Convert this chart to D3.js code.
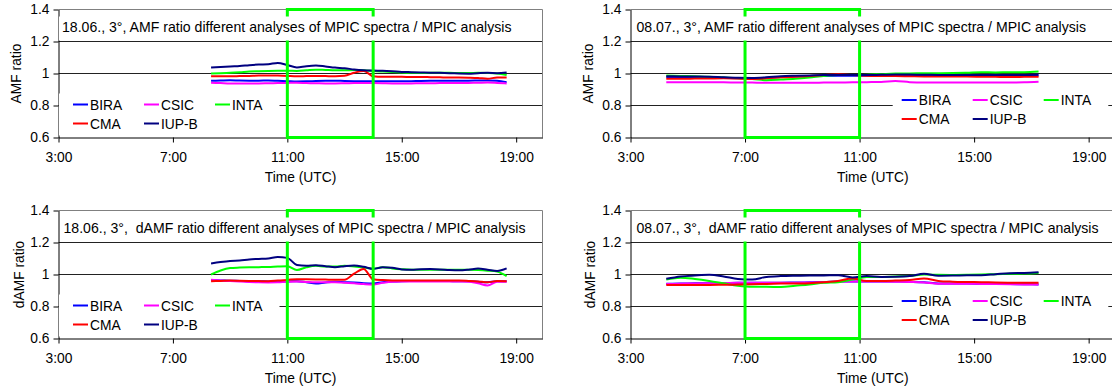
<!DOCTYPE html>
<html>
<head>
<meta charset="utf-8">
<script src="https://cdn.jsdelivr.net/npm/d3@7"></script>
<style>
  body { margin: 0; background: #fff; }
  svg { display: block; font-family: "Liberation Sans", Arial, sans-serif; }
</style>
</head>
<body>
<div id="chart"></div>
<script>
/* ── data ─────────────────────────────────────────────── */
const seriesNames  = ['BIRA', 'CSIC', 'INTA', 'CMA', 'IUP-B'];
const seriesColors = ['#0000ff', '#ff00ff', '#00ff00', '#ff0000', '#000080'];

const xTicks      = [3, 7, 11, 15, 19];
const xTickLabels = ['3:00', '7:00', '11:00', '15:00', '19:00'];
const yTicks      = [0.6, 0.8, 1, 1.2, 1.4];
const yTickLabels = ['0.6', '0.8', '1', '1.2', '1.4'];

// 18.06.
const timesJun = ['8:20','8:40','9:00','9:20','9:40','10:00','10:20','10:40','11:00','11:20','11:40','12:00',
  '12:20','12:40','13:00','13:20','13:40','14:00','14:20','14:40','15:00','15:20','15:40','16:00',
  '16:20','16:40','17:00','17:20','17:40','18:00','18:20','18:40'];

const amfJunBira = [0.954,0.956,0.958,0.956,0.955,0.955,0.956,0.954,0.952,0.950,0.951,0.953,0.954,0.955,0.953,0.952,0.951,0.952,0.951,0.951,0.951,0.952,0.953,0.954,0.955,0.955,0.955,0.955,0.956,0.957,0.954,0.946];
const amfJunCsic = [0.942,0.940,0.938,0.938,0.938,0.938,0.939,0.940,0.941,0.942,0.940,0.939,0.938,0.938,0.939,0.940,0.941,0.940,0.939,0.938,0.938,0.938,0.939,0.939,0.940,0.940,0.940,0.941,0.942,0.943,0.941,0.938];
const amfJunInta = [1.000,1.002,1.005,1.008,1.012,1.014,1.016,1.017,1.017,1.016,1.020,1.024,1.022,1.020,1.020,1.022,1.020,1.016,1.012,1.010,1.006,1.004,1.003,1.004,1.004,1.004,1.003,1.003,1.004,1.003,1.000,0.990];
const amfJunCma  = [0.983,0.983,0.983,0.984,0.985,0.987,0.988,0.987,0.985,0.983,0.984,0.985,0.984,0.983,0.986,1.005,1.016,0.983,0.979,0.979,0.979,0.978,0.978,0.977,0.976,0.975,0.975,0.974,0.972,0.967,0.975,0.975];
const amfJunIupb = [1.037,1.040,1.044,1.047,1.052,1.056,1.058,1.066,1.053,1.038,1.046,1.050,1.044,1.037,1.033,1.025,1.020,1.018,1.017,1.014,1.010,1.008,1.006,1.005,1.004,1.002,1.000,0.999,1.002,1.004,1.002,1.006];

const damfJunBira = [0.965,0.963,0.961,0.960,0.958,0.958,0.957,0.957,0.957,0.958,0.952,0.944,0.950,0.954,0.952,0.950,0.946,0.944,0.952,0.956,0.958,0.959,0.960,0.960,0.960,0.959,0.958,0.958,0.955,0.952,0.958,0.958];
const damfJunCsic = [0.967,0.962,0.959,0.956,0.953,0.951,0.950,0.951,0.955,0.956,0.953,0.951,0.952,0.951,0.949,0.945,0.940,0.937,0.948,0.955,0.956,0.956,0.956,0.957,0.957,0.957,0.956,0.955,0.945,0.932,0.954,0.955];
const damfJunInta = [1.000,1.025,1.040,1.043,1.045,1.046,1.047,1.050,1.052,1.028,1.045,1.054,1.050,1.050,1.054,1.050,1.044,1.036,1.046,1.038,1.033,1.030,1.030,1.030,1.030,1.030,1.030,1.030,1.028,1.024,1.018,0.990];
const damfJunCma  = [0.958,0.960,0.962,0.961,0.960,0.959,0.958,0.962,0.966,0.971,0.970,0.969,0.968,0.967,0.967,1.005,1.035,0.970,0.965,0.963,0.963,0.963,0.963,0.963,0.963,0.962,0.962,0.960,0.957,0.951,0.960,0.958];
const damfJunIupb = [1.069,1.078,1.085,1.088,1.094,1.097,1.100,1.110,1.104,1.060,1.055,1.058,1.052,1.046,1.052,1.056,1.048,1.035,1.045,1.042,1.032,1.030,1.033,1.034,1.032,1.028,1.026,1.030,1.037,1.030,1.022,1.038];

// 08.07.
const timesJul = ['4:15','4:45','5:15','5:45','6:15','6:45','7:15','7:45','8:15','8:45','9:15','9:45','10:15',
  '10:45','11:15','11:45','12:15','12:45','13:15','13:45','14:15','14:45','15:15','15:45','16:15','16:45','17:15'];

const amfJulBira = [0.976,0.976,0.975,0.975,0.973,0.971,0.970,0.973,0.978,0.981,0.983,0.985,0.986,0.986,0.986,0.987,0.988,0.987,0.986,0.985,0.985,0.985,0.985,0.985,0.985,0.986,0.988];
const amfJulCsic = [0.946,0.946,0.946,0.946,0.945,0.944,0.943,0.942,0.942,0.942,0.942,0.943,0.944,0.945,0.946,0.947,0.953,0.946,0.944,0.944,0.944,0.944,0.944,0.944,0.944,0.945,0.948];
const amfJulInta = [0.988,0.985,0.983,0.979,0.975,0.970,0.965,0.958,0.962,0.967,0.975,0.985,0.990,0.990,0.992,0.996,1.000,1.000,1.002,1.002,1.003,1.005,1.008,1.007,1.008,1.008,1.012];
const amfJulCma  = [0.967,0.967,0.968,0.969,0.970,0.968,0.966,0.970,0.976,0.980,0.984,0.990,0.995,0.990,0.986,0.984,0.984,0.983,0.982,0.982,0.981,0.981,0.980,0.979,0.978,0.979,0.980];
const amfJulIupb = [0.983,0.982,0.981,0.980,0.976,0.973,0.972,0.976,0.983,0.986,0.988,0.990,0.990,0.990,0.990,0.992,0.994,0.993,0.992,0.991,0.990,0.990,0.990,0.991,0.990,0.990,0.994];

const damfJulBira = [0.942,0.943,0.945,0.946,0.947,0.948,0.949,0.949,0.949,0.950,0.951,0.953,0.956,0.957,0.957,0.957,0.956,0.954,0.951,0.944,0.943,0.943,0.942,0.941,0.940,0.939,0.938];
const damfJulCsic = [0.940,0.942,0.944,0.946,0.947,0.948,0.948,0.948,0.948,0.949,0.950,0.952,0.955,0.956,0.956,0.956,0.955,0.953,0.950,0.942,0.942,0.942,0.941,0.940,0.939,0.938,0.937];
const damfJulInta = [0.969,0.980,0.972,0.960,0.945,0.930,0.923,0.923,0.922,0.930,0.938,0.948,0.952,0.968,0.985,0.985,0.988,0.990,1.000,0.998,0.997,0.998,1.000,1.002,1.004,1.006,1.010];
const damfJulCma  = [0.935,0.935,0.935,0.935,0.936,0.937,0.939,0.941,0.943,0.944,0.946,0.952,0.960,0.975,0.960,0.960,0.962,0.965,0.975,0.960,0.955,0.953,0.952,0.950,0.949,0.948,0.948];
const damfJulIupb = [0.973,0.988,0.994,0.998,0.988,0.972,0.968,0.985,0.990,0.992,0.993,0.994,0.996,0.982,0.990,0.985,0.986,0.990,1.004,0.992,0.993,0.995,0.996,1.002,1.008,1.010,1.014];

/* ── layout ───────────────────────────────────────────── */
const W = 1112, H = 387;
const FONT = 13.8;
const TITLE_FONT = 14.1;

const panels = [
  { title: '18.06., 3°, AMF ratio different analyses of MPIC spectra / MPIC analysis',
    yLabel: 'AMF ratio', times: timesJun, window: [11, 14],
    values: [amfJunBira, amfJunCsic, amfJunInta, amfJunCma, amfJunIupb],
    left: 58.5, right: 542.5, top: 9.5, bottom: 137.5, titleDx: 3.5, yLabelX: 20.7,
    legend: { x: 14.5, y: 95, boxX: 0.5, boxW: 220.5, boxY: 84 } },
  { title: '08.07., 3°, AMF ratio different analyses of MPIC spectra / MPIC analysis',
    yLabel: 'AMF ratio', times: timesJul, window: [7, 11],
    values: [amfJulBira, amfJulCsic, amfJulInta, amfJulCma, amfJulIupb],
    left: 630.5, right: 1115, top: 9.5, bottom: 137.5, titleDx: 6, yLabelX: 592.7,
    legend: { x: 271.2, y: 90.5, boxX: 262.2, boxW: 215.6, boxY: 80 } },
  { title: '18.06., 3°,  dAMF ratio different analyses of MPIC spectra / MPIC analysis',
    yLabel: 'dAMF ratio', times: timesJun, window: [11, 14],
    values: [damfJunBira, damfJunCsic, damfJunInta, damfJunCma, damfJunIupb],
    left: 58.5, right: 542.5, top: 210.5, bottom: 338.5, titleDx: 5, yLabelX: 24,
    legend: { x: 14.5, y: 95, boxX: 0.5, boxW: 220.5, boxY: 84 } },
  { title: '08.07., 3°,  dAMF ratio different analyses of MPIC spectra / MPIC analysis',
    yLabel: 'dAMF ratio', times: timesJul, window: [7, 11],
    values: [damfJulBira, damfJulCsic, damfJulInta, damfJulCma, damfJulIupb],
    left: 630.5, right: 1115, top: 210.5, bottom: 338.5, titleDx: 6, yLabelX: 595,
    legend: { x: 271.2, y: 90.5, boxX: 262.2, boxW: 215.6, boxY: 80 } },
];

const toHours = s => { const [h, m] = s.split(':').map(Number); return h + m / 60; };

const svg = d3.select('#chart').append('svg')
  .attr('width', W).attr('height', H)
  .attr('viewBox', `0 0 ${W} ${H}`);

svg.append('rect').attr('width', W).attr('height', H).attr('fill', '#fff');

panels.forEach(drawPanel);

function drawPanel(p) {
  const x = d3.scaleLinear().domain([3, 19.92]).range([p.left, p.right]);
  const y = d3.scaleLinear().domain([0.6, 1.4]).range([p.bottom, p.top]);
  const g = svg.append('g');

  // gridlines
  g.append('g').selectAll('line')
    .data(yTicks.slice(1, -1))
    .join('line')
    .attr('x1', p.left).attr('x2', p.right)
    .attr('y1', d => y(d)).attr('y2', d => y(d))
    .attr('stroke', '#222').attr('stroke-width', 1);

  // frame (top / right) in grey
  g.append('path')
    .attr('d', `M${p.left},${p.top}H${p.right}V${p.bottom}`)
    .attr('fill', 'none').attr('stroke', '#808080').attr('stroke-width', 1);

  // axes
  const axisStyle = sel => sel
    .call(a => a.select('.domain').attr('stroke', '#000'))
    .call(a => a.selectAll('.tick line').attr('stroke', '#000'))
    .call(a => a.selectAll('.tick text')
      .attr('fill', '#000')
      .attr('font-family', '"Liberation Sans", Arial, sans-serif')
      .attr('font-size', FONT));

  g.append('g')
    .attr('transform', `translate(${p.left},0)`)
    .call(d3.axisLeft(y).tickValues(yTicks).tickFormat((d, i) => yTickLabels[i])
      .tickSize(5).tickSizeOuter(0).tickPadding(4))
    .call(axisStyle);

  g.append('g')
    .attr('transform', `translate(0,${p.bottom})`)
    .call(d3.axisBottom(x).tickValues(xTicks).tickFormat((d, i) => xTickLabels[i])
      .tickSize(5).tickSizeOuter(0).tickPadding(10))
    .call(axisStyle);

  // axis titles
  g.append('text')
    .attr('x', (p.left + p.right) / 2).attr('y', p.bottom + 44)
    .attr('text-anchor', 'middle').attr('font-size', FONT)
    .text('Time (UTC)');

  g.append('text')
    .attr('transform', `translate(${p.yLabelX},${(p.top + p.bottom) / 2}) rotate(-90)`)
    .attr('text-anchor', 'middle').attr('font-size', FONT)
    .text(p.yLabel);

  // series
  const line = d3.line()
    .x(d => x(d[0]))
    .y(d => y(d[1]))
    .curve(d3.curveMonotoneX);

  const hours = p.times.map(toHours);
  seriesNames.forEach((name, i) => {
    g.append('path')
      .datum(hours.map((h, k) => [h, p.values[i][k]]))
      .attr('d', line)
      .attr('fill', 'none')
      .attr('stroke', seriesColors[i])
      .attr('stroke-width', 2)
      .attr('stroke-linejoin', 'round');
  });

  // highlighted time window
  g.append('rect')
    .attr('x', x(p.window[0])).attr('y', p.top)
    .attr('width', x(p.window[1]) - x(p.window[0]))
    .attr('height', p.bottom - p.top)
    .attr('fill', 'none').attr('stroke', '#00ff00').attr('stroke-width', 3);

  // title box
  const titleBox = g.append('rect').attr('fill', '#fff');
  const title = g.append('text')
    .attr('x', p.left + p.titleDx).attr('y', p.top + 22.3)
    .attr('font-size', TITLE_FONT)
    .style('white-space', 'pre')
    .text(p.title);
  const tw = title.node().getComputedTextLength();
  titleBox
    .attr('x', p.left + p.titleDx - 3).attr('y', p.top + 7)
    .attr('width', tw + 9).attr('height', 24);

  // legend
  const L = p.legend;
  g.append('rect')
    .attr('x', p.left + L.boxX).attr('y', p.top + L.boxY)
    .attr('width', L.boxW).attr('height', 42)
    .attr('fill', '#fff');

  const items = g.append('g').selectAll('g')
    .data(seriesNames)
    .join('g')
    .attr('transform', (d, i) =>
      `translate(${p.left + L.x + (i % 3) * 71},${p.top + L.y + Math.floor(i / 3) * 19})`);

  items.append('line')
    .attr('x1', 0).attr('x2', 15)
    .attr('stroke', (d, i) => seriesColors[i])
    .attr('stroke-width', 2);

  items.append('text')
    .attr('x', 17).attr('y', 5)
    .attr('font-size', FONT)
    .text(d => d);
}
</script>
</body>
</html>
